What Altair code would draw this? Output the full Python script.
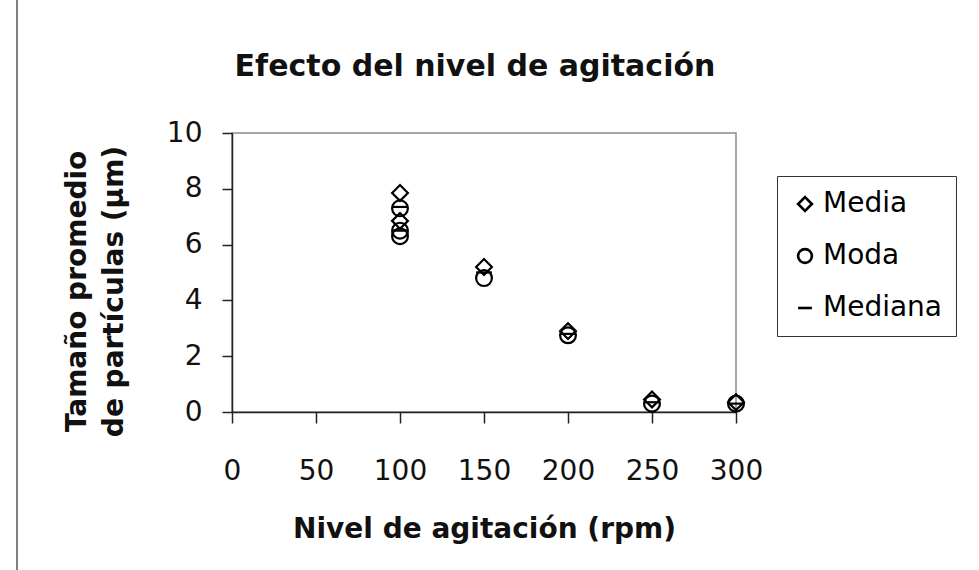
import altair as alt
import pandas as pd

# Agitation level (rpm) and particle-size statistics (µm) per run
media_rpm = [100, 100, 150, 200, 250, 300]
media_um = [7.85, 6.85, 5.2, 2.9, 0.45, 0.35]

moda_rpm = [100, 100, 100, 150, 200, 250, 300]
moda_um = [7.3, 6.5, 6.3, 4.8, 2.75, 0.3, 0.3]

mediana_rpm = [100, 100, 150, 200, 250, 300]
mediana_um = [7.35, 6.5, 5.0, 2.8, 0.35, 0.3]

series = ["Media", "Moda", "Mediana"]
shapes = ["diamond", "circle", "stroke"]

x_ticks = [0, 50, 100, 150, 200, 250, 300]
y_ticks = [0, 2, 4, 6, 8, 10]

chart_title = "Efecto del nivel de agitación"

frames = []
for name, xs, ys in [("Media", media_rpm, media_um),
                     ("Moda", moda_rpm, moda_um),
                     ("Mediana", mediana_rpm, mediana_um)]:
    frames.append(pd.DataFrame({"rpm": xs, "um": ys, "serie": name}))
df = pd.concat(frames, ignore_index=True)

FONT = "DejaVu Sans"

points = alt.Chart(df).mark_point(
    filled=False, color="black", strokeWidth=2.2, size=250, opacity=1
).encode(
    x=alt.X(
        "rpm:Q",
        scale=alt.Scale(domain=[0, 300], nice=False, zero=True),
        axis=alt.Axis(
            values=x_ticks, title="Nivel de agitación (rpm)",
            grid=False, tickSize=11, labelPadding=34,
            labelFlush=False, labelOverlap=False, labelBound=False,
            titleY=125, titleBaseline="alphabetic",
        ),
    ),
    y=alt.Y(
        "um:Q",
        scale=alt.Scale(domain=[0, 10], nice=False),
        axis=alt.Axis(
            values=y_ticks, title=["Tamaño promedio", "de partículas (µm)"],
            grid=False, tickSize=10, labelPadding=20,
            labelFlush=False, labelOverlap=False, labelBound=False,
            titleX=-155, titleY=158, titleAngle=-90,
            titleAlign="center", titleBaseline="middle", titleLineHeight=37,
        ),
    ),
    shape=alt.Shape(
        "serie:N",
        scale=alt.Scale(domain=series, range=shapes),
        legend=alt.Legend(
            title=None, orient="none", legendX=545, legendY=43,
            padding=14, strokeColor="#333333",
            labelFont=FONT, labelFontSize=28, labelColor="black",
            symbolSize=190, symbolStrokeWidth=2.6, symbolStrokeColor="black",
            symbolFillColor="transparent", rowPadding=24, labelOffset=4,
        ),
    ),
    order=alt.Order("serie:N"),
)

# Chart heading, placed above the plot area
heading = alt.Chart(pd.DataFrame({"t": [chart_title]})).mark_text(
    font=FONT, fontSize=30, fontWeight="bold", color="#111111",
    align="center", baseline="alphabetic",
).encode(text="t:N", x=alt.value(243), y=alt.value(-57))

# Left border line of the chart area
border = alt.Chart(pd.DataFrame({"k": [0]})).mark_rule(
    color="#555555", strokeWidth=1.5
).encode(x=alt.value(-215), y=alt.value(-133), y2=alt.value(437))

chart = alt.layer(border, heading, points).properties(
    width=504,
    height=279,
    background="white",
    padding={"left": 232, "top": 133, "right": 243, "bottom": 158},
    autosize=alt.AutoSizeParams(type="none"),
).configure_view(
    stroke="#8a8a8a", strokeWidth=1.5
).configure_axis(
    labelFont=FONT, labelFontSize=28, labelColor="#111111",
    titleFont=FONT, titleFontSize=28, titleFontWeight="bold", titleColor="#111111",
    domainColor="#222222", domainWidth=1.5, tickColor="#222222", tickWidth=1.5,
)

chart.save("out.html", embed_options={"renderer": "svg", "actions": False})
